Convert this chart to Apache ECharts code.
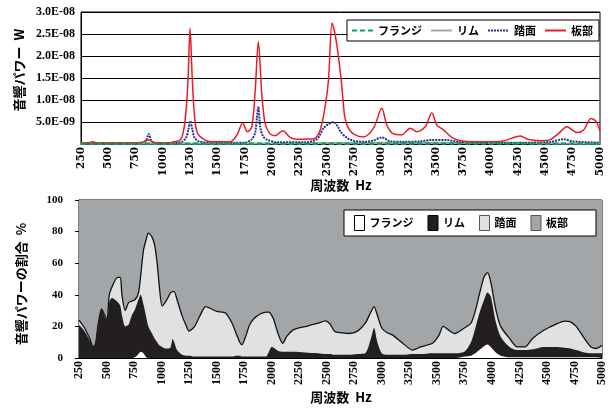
<!DOCTYPE html>
<html><head><meta charset="utf-8">
<script src="https://cdn.jsdelivr.net/npm/echarts@6/dist/echarts.min.js"></script>
<style>html,body{margin:0;padding:0;background:#fff}#c{width:612px;height:410px}</style>
</head><body><div id="c"></div>
<script>
// ---------- data ----------
const seriesNames = ['フランジ', 'リム', '踏面', '板部'];
const yTopLabels = ['', '5.0E-09', '1.0E-08', '1.5E-08', '2.0E-08', '2.5E-08', '3.0E-08'];
const yBotLabels = ['0', '20', '40', '60', '80', '100'];

// top chart: acoustic power (W)
const freqFlange = [250, 800, 2000, 3960, 5000];
const flangeW = [0.05e-9, 0.05e-9, 0.05e-9, 0.1e-9, 0.05e-9];
const freqRim = [250, 500, 900, 1300, 2000, 2930, 3960, 4500, 5000];
const rimW = [0.1e-9, 0.15e-9, 0.1e-9, 0.1e-9, 0.15e-9, 0.3e-9, 0.3e-9, 0.15e-9, 0.1e-9];
const freqTread = [250,400,600,800,845,870,892,920,1100,1180,1215,1232,1250,1270,1290,1330,1450,1750,1810,1843,1860,1873,1890,1915,1950,2050,2300,2408,2469,2515,2561,2600,2625,2683,2744,2850,2927,3003,3080,3200,3350,3450,3600,3700,3900,4300,4550,4667,4750,5000];
const treadW = [0.2,0.2,0.2,0.3,0.8,2.3,0.8,0.3,0.2,0.6,1.6,3.2,5.2,3.2,1.4,0.6,0.3,0.3,1.0,2.5,6.0,8.5,3.9,1.8,1.0,0.4,0.4,1.1,3.6,4.5,5.0,4.0,2.8,1.4,0.75,0.5,0.8,1.5,0.6,0.5,0.6,0.9,0.9,0.5,0.3,0.3,0.5,1.1,0.6,0.3].map(v => v * 1e-9);
const freqPlate = [250,300,360,400,500,600,700,800,870,890,920,1000,1065,1095,1157,1187,1212,1230,1248,1268,1290,1315,1355,1432,1614,1676,1730,1773,1813,1843,1873,1904,1935,1981,2027,2097,2164,2225,2378,2439,2484,2515,2548,2575,2600,2625,2645,2665,2700,2750,2835,2927,3003,3049,3110,3187,3263,3324,3400,3461,3507,3568,3644,3720,3842,3964,4117,4270,4346,4454,4545,4621,4697,4789,4850,4918,4966,5000];
const plateW = [0.3,0.2,0.5,0.2,0.3,0.2,0.3,0.3,0.9,0.7,0.3,0.3,0.3,0.5,0.9,2.8,7.7,15,26.3,15,6,2.5,1.4,0.5,0.5,2.0,4.8,2.8,3.9,11.6,23.3,11.6,4.7,2.3,1.9,3.0,1.5,1.1,1.2,3.2,8.5,14.5,27.5,25,21,16,11,6,3.5,2.2,1.6,3.6,8.1,4.3,2.3,2.1,3.6,2.8,3.9,7.1,4.3,3.2,1.5,0.75,0.5,0.5,0.7,1.8,1.0,0.75,1.0,2.4,3.9,2.6,3.2,5.8,5.1,2.8].map(v => v * 1e-9);

// bottom chart: share of acoustic power (%)
const freqPct = [250,300,350,380,400,425,455,490,505,525,550,600,625,640,670,700,730,760,790,810,835,860,880,910,935,960,980,1005,1040,1080,1100,1115,1140,1185,1220,1250,1300,1350,1400,1440,1500,1580,1640,1680,1710,1730,1760,1800,1840,1900,1950,1975,2000,2020,2060,2100,2140,2200,2300,2420,2490,2530,2570,2620,2700,2780,2850,2900,2930,2960,3000,3050,3100,3190,3280,3350,3460,3520,3557,3610,3660,3750,3810,3850,3885,3930,3960,3990,4035,4080,4160,4230,4300,4370,4475,4570,4660,4710,4765,4840,4900,4950,5000];
const flangePct = [0,0,0,0,0,0,0,0,0,0, 0,0,0,0,0,0,0,0.5,2.5,4, 3,0.5,0,0,0,0,0,0,0,0, 0,0,0,0,0,0,0,0,0,0, 0,0,0,0,0,0,0,0,0,0, 0,0,0,0,0,0,0,0,0,0, 0,0,0,0,0,0,0,0,0,0, 0,0,0,0,0,0,0,0,0,0, 0,1,1.5,3,5,7.5,8.5,7,3.5,1.5, 0.5,0.5,0.5,0.5,0.5,0.5,0.5,0.5,0.5,0.5, 0.5,0.5,0.5];
const rimPct = [21,17,11,7,9,22,31,25,24,35.5, 38,35.5,33,27,20,21,27,30.5,34.5,36, 31,25.5,20,16,12.5,10,8,7,6,6.5, 12,10,5,2,1.5,1.5,1,1,1,1, 1,1,1,1.5,1.5,1,1,1,1,1, 1,4,7,6.5,4.5,4,4,4,3.5,3, 2.5,2.5,2,2,2,2.5,3,12,19,10, 3,2,2,2,2.5,2.5,3,3,3,3, 3,3,8.5,16,23,29.5,33,32,19.5,12, 6.5,4.5,4.5,5,6.5,6.5,6,5.5,4.5,3, 2.5,2.5,2.5];
const treadPct = [3,2,1,0,0,0,0,1,0,4.5, 7,15.5,18,13,10,14,9,6,4,12, 34,49,59,61,59.5,50,37,26,30,34.5, 30,32,32,25,19.5,15.5,19,26,31.5,30.5, 28.5,27.5,21,13.5,8.5,7.5,12,20,24,27, 28,25,20,17.5,10.5,5.3,10,14,16.3,19, 21,19,15,14,13.5,14.5,19,17,13.5,17, 16,14,12.5,7.3,2.5,4.5,6.3,11.5,17,14.5, 12.5,15,12,11,12,14.5,12.5,9,8,6.5, 5.4,2,2,6.9,10.7,14,16.9,17,15,8.9, 4,3,5];
const platePct = [76,81,88,93,91,78,69,74,76,60, 55,49,49,60,70,65,64,63,59,48, 32,25,21,23,28,40,55,67,64,59, 58,58,63,73,79,83,80,73,67.5,68.5, 70.5,71.5,78,85,90,91.5,87,79,75,72, 71,71,73,76,85,90.7,86,82,80.2,78, 76.5,78.5,83,84,84.5,83,78,71,67.5,73, 81,84,85.5,90.7,95,93,90.7,85.5,80,82.5, 84.5,81,78,70,60,48.5,46,52,69,80, 87.6,93,93,87.6,82.3,79,76.6,77,80,87.6, 93,94,92];

// ---------- chart ----------
const pairs = (fs, vs) => fs.map((f, i) => [f, vs[i]]);
// cumulative (stacked) tops of the 100% area chart, layered from the top share down
const stackTop = (parts) => freqPct.map((f, i) => [f, parts.reduce((s, p) => s + p[i], 0)]);
const jp = '"Noto Sans CJK JP", sans-serif';
const serifA = '"DejaVu Serif", serif';
const serifB = '"Liberation Serif", serif';

const chart = echarts.init(document.getElementById('c'), null, {renderer: 'canvas'});
const areaSeries = (name, parts, color, line, z) => ({
  name, type: 'line', xAxisIndex: 1, yAxisIndex: 1, symbol: 'none', smooth: 0.25, z,
  lineStyle: line, areaStyle: {color, opacity: 1, origin: 'start'}, data: stackTop(parts)
});
const option = {
  animation: false,
  backgroundColor: '#fff',
  grid: [
    {left: 81, top: 12, width: 519, height: 132, show: true, borderColor: '#000', borderWidth: 1, backgroundColor: '#fff'},
    {left: 79, top: 200, width: 523, height: 158, show: true, borderColor: '#000', borderWidth: 1}
  ],
  xAxis: [
    {gridIndex: 0, type: 'value', min: 250, max: 5000, interval: 250,
     axisLine: {lineStyle: {color: '#000', width: 1}}, axisTick: {show: false}, splitLine: {show: false},
     axisLabel: {rotate: 90, formatter: v => String(v), fontFamily: serifA, fontWeight: 'bold', fontSize: 10.5, color: '#000', margin: 3}},
    {gridIndex: 1, type: 'value', min: 250, max: 5000, interval: 250,
     axisLine: {lineStyle: {color: '#000', width: 1}}, axisTick: {show: false}, splitLine: {show: false},
     axisLabel: {rotate: 90, formatter: v => String(v), fontFamily: serifB, fontWeight: 'bold', fontSize: 12, color: '#000', margin: 3}}
  ],
  yAxis: [
    {gridIndex: 0, type: 'value', min: 0, max: 3e-8, interval: 5e-9,
     axisLine: {show: true, lineStyle: {color: '#000', width: 1}}, axisTick: {show: false},
     splitLine: {show: true, lineStyle: {color: '#000', width: 1}},
     axisLabel: {formatter: v => yTopLabels[Math.round(v / 5e-9)], fontFamily: serifB, fontWeight: 'bold', fontSize: 12, color: '#000', margin: 6}},
    {gridIndex: 1, type: 'value', min: 0, max: 100, interval: 20,
     axisLine: {show: true, lineStyle: {color: '#000', width: 1}},
     axisTick: {show: true, length: 4, lineStyle: {color: '#000'}},
     splitLine: {show: false},
     axisLabel: {formatter: v => yBotLabels[Math.round(v / 20)], fontFamily: serifB, fontWeight: 'bold', fontSize: 11, color: '#000', margin: 16}}
  ],
  legend: [
    {data: seriesNames, left: 347, top: 20, orient: 'horizontal', selectedMode: false,
     itemWidth: 21, itemHeight: 10, itemGap: 8, padding: [5, 6, 5, 4],
     backgroundColor: '#fff', borderColor: '#000', borderWidth: 1,
     itemStyle: {opacity: 0},
     textStyle: {fontFamily: jp, fontWeight: 'bold', fontSize: 11, color: '#000'}},
    {data: [
       {name: seriesNames[0], icon: 'rect', itemStyle: {color: '#fff', borderColor: '#000', borderWidth: 1, opacity: 1}},
       {name: seriesNames[1], icon: 'rect', itemStyle: {color: '#231f20', borderColor: '#000', borderWidth: 1, opacity: 1}},
       {name: seriesNames[2], icon: 'rect', itemStyle: {color: '#e1e1e1', borderColor: '#555', borderWidth: 1, opacity: 1}},
       {name: seriesNames[3], icon: 'rect', itemStyle: {color: '#a3a6a9', borderColor: '#555', borderWidth: 1, opacity: 1}}
     ],
     left: 344, top: 210, orient: 'horizontal', selectedMode: false,
     itemWidth: 10, itemHeight: 15, itemGap: 14, padding: [5, 28, 5, 10],
     backgroundColor: '#fff', borderColor: '#000', borderWidth: 1,
     textStyle: {fontFamily: jp, fontWeight: 'bold', fontSize: 11, color: '#000'}}
  ],
  graphic: [
    {type: 'text', x: 19, y: 70, rotation: Math.PI / 2,
     style: {text: '音響パワー  W', font: 'bold 13px "Noto Sans CJK JP"', fill: '#000', align: 'center', verticalAlign: 'middle', textAlign: 'center', textVerticalAlign: 'middle'}},
    {type: 'text', x: 21, y: 284, rotation: Math.PI / 2,
     style: {text: '音響パワーの割合  %', font: 'bold 13px "Noto Sans CJK JP"', fill: '#000', align: 'center', verticalAlign: 'middle', textAlign: 'center', textVerticalAlign: 'middle'}},
    {type: 'text', x: 341, y: 185,
     style: {text: '周波数  Hz', font: 'bold 13px "Noto Sans CJK JP"', fill: '#000', align: 'center', verticalAlign: 'middle', textAlign: 'center', textVerticalAlign: 'middle'}},
    {type: 'text', x: 341, y: 397,
     style: {text: '周波数  Hz', font: 'bold 13px "Noto Sans CJK JP"', fill: '#000', align: 'center', verticalAlign: 'middle', textAlign: 'center', textVerticalAlign: 'middle'}}
  ],
  series: [
    {name: seriesNames[1], type: 'line', xAxisIndex: 0, yAxisIndex: 0, symbol: 'none', smooth: 0.3, z: 2,
     color: '#a6a6a6', lineStyle: {color: '#a6a6a6', width: 2}, data: pairs(freqRim, rimW)},
    {name: seriesNames[2], type: 'line', xAxisIndex: 0, yAxisIndex: 0, symbol: 'none', smooth: 0.3, z: 3,
     color: '#2e3192', lineStyle: {color: '#2e3192', width: 2, type: [2, 1]}, data: pairs(freqTread, treadW)},
    {name: seriesNames[3], type: 'line', xAxisIndex: 0, yAxisIndex: 0, symbol: 'none', smooth: 0.3, z: 4,
     color: '#ed1c24', lineStyle: {color: '#ed1c24', width: 1.5}, data: pairs(freqPlate, plateW)},
    {name: seriesNames[0], type: 'line', xAxisIndex: 0, yAxisIndex: 0, symbol: 'none', smooth: 0.3, z: 5,
     color: '#00a651', lineStyle: {color: '#00a651', width: 2.5, type: [5, 3]}, data: pairs(freqFlange, flangeW)},

    areaSeries(seriesNames[3], [flangePct, rimPct, treadPct, platePct], '#a3a6a9', {width: 0}, 2),
    areaSeries(seriesNames[2], [flangePct, rimPct, treadPct], '#e1e1e1', {width: 1.3, color: '#111'}, 3),
    areaSeries(seriesNames[1], [flangePct, rimPct], '#231f20', {width: 0}, 4),
    areaSeries(seriesNames[0], [flangePct], '#ffffff', {width: 0}, 5)
  ]
};
chart.setOption(option);
</script>
</body></html>
